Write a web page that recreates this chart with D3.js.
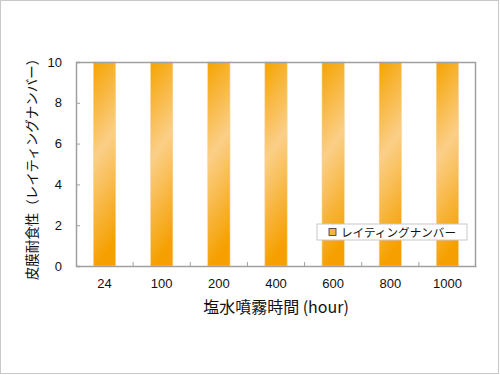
<!DOCTYPE html>
<html lang="ja">
<head>
<meta charset="utf-8">
<title>皮膜耐食性</title>
<style>
  body { margin: 0; background: #fff; }
  svg { display: block; font-family: "Noto Sans CJK JP", "Liberation Sans", Arial, sans-serif; }
</style>
</head>
<body>
<div id="chart"></div>
<script src="https://d3js.org/d3.v7.min.js"></script>
<script>
const categories = ['24', '100', '200', '400', '600', '800', '1000']
const ratingNumbers = [10, 10, 10, 10, 10, 10, 10]
const yTicks = [0, 2, 4, 6, 8, 10]
const seriesName = 'レイティングナンバー'
const xTitle = '塩水噴霧時間 (hour)'
const yTitle = '皮膜耐食性（レイティングナンバー）'

const W = 500, H = 375
const margin = { top: 62, right: 24, bottom: 109, left: 76 }
const width = W - margin.left - margin.right
const height = H - margin.top - margin.bottom

const svg = d3.select('#chart').append('svg')
  .attr('width', W).attr('height', H)

// outer frame
svg.append('rect')
  .attr('x', 0.5).attr('y', 0.5)
  .attr('width', W - 2).attr('height', H - 2)
  .attr('fill', '#fff').attr('stroke', '#c8c8c8')

const defs = svg.append('defs')
const grad = defs.append('linearGradient')
  .attr('id', 'barGrad')
  .attr('x1', 0).attr('y1', 0).attr('x2', 0.15).attr('y2', 1)
grad.append('stop').attr('offset', '0%').attr('stop-color', '#f5a300')
grad.append('stop').attr('offset', '47%').attr('stop-color', '#fbcf88')
grad.append('stop').attr('offset', '100%').attr('stop-color', '#f5a000')

const g = svg.append('g')
  .attr('transform', `translate(${margin.left},${margin.top})`)

const x = d3.scaleBand()
  .domain(categories)
  .range([0, width])
  .paddingInner(0.61)
  .paddingOuter(0.305)

const y = d3.scaleLinear()
  .domain([0, 10])
  .range([height, 0])

// bars
g.selectAll('rect.bar')
  .data(ratingNumbers)
  .enter()
  .append('rect')
  .attr('class', 'bar')
  .attr('x', (d, i) => x(categories[i]))
  .attr('y', d => y(d))
  .attr('width', x.bandwidth())
  .attr('height', d => y(0) - y(d))
  .attr('fill', 'url(#barGrad)')
  .attr('stroke', '#fbd59a')
  .attr('stroke-width', 0.6)

// plot frame (top & right)
g.append('path')
  .attr('d', `M0,0.5H${width - 0.5}V${height}`)
  .attr('fill', 'none').attr('stroke', '#a0a0a0').attr('stroke-width', 1.5)

// y axis
const yAxis = g.append('g')
  .call(d3.axisLeft(y).tickValues(yTicks).tickSize(-4).tickPadding(14))
yAxis.select('.domain').attr('stroke', '#a0a0a0').attr('stroke-width', 1.5)
yAxis.selectAll('.tick line').attr('stroke', '#a0a0a0')
yAxis.selectAll('text').attr('font-size', 13).attr('fill', '#111')
  .attr('font-family', '"Liberation Sans", Arial, sans-serif')

// x axis: ticks between categories
const xAxis = g.append('g')
  .attr('transform', `translate(0,${height})`)
  .call(d3.axisBottom(x).tickSize(0).tickPadding(13))
xAxis.select('.domain').attr('stroke', '#a0a0a0').attr('stroke-width', 1.5)
xAxis.selectAll('text').attr('font-size', 13).attr('fill', '#111')
  .attr('font-family', '"Liberation Sans", Arial, sans-serif')
xAxis.selectAll('line.sep')
  .data(categories.slice(1))
  .enter()
  .append('line')
  .attr('class', 'sep')
  .attr('x1', d => x(d) - x.step() * x.paddingInner() / 2)
  .attr('x2', d => x(d) - x.step() * x.paddingInner() / 2)
  .attr('y1', 0).attr('y2', -4)
  .attr('stroke', '#a0a0a0')

// axis titles
svg.append('text')
  .attr('x', margin.left + width / 2)
  .attr('y', 313)
  .attr('text-anchor', 'middle')
  .attr('font-size', 16)
  .attr('fill', '#111')
  .text(xTitle)

svg.append('text')
  .attr('transform', `translate(37,${margin.top + height / 2 + 2}) rotate(-90)`)
  .attr('text-anchor', 'middle')
  .attr('font-size', 13.5)
  .attr('fill', '#111')
  .text(yTitle)

// legend
const legend = svg.append('g').attr('transform', 'translate(317,224)')
legend.append('rect')
  .attr('width', 150).attr('height', 16)
  .attr('fill', '#fff').attr('stroke', '#c8c8c8')
legend.append('rect')
  .attr('x', 12).attr('y', 4.5).attr('width', 7).attr('height', 7)
  .attr('fill', '#f8b640').attr('stroke', '#333').attr('stroke-width', 0.8)
legend.append('text')
  .attr('x', 24).attr('y', 12.5)
  .attr('font-size', 11.6)
  .attr('fill', '#111')
  .text(seriesName)
</script>
</body>
</html>
